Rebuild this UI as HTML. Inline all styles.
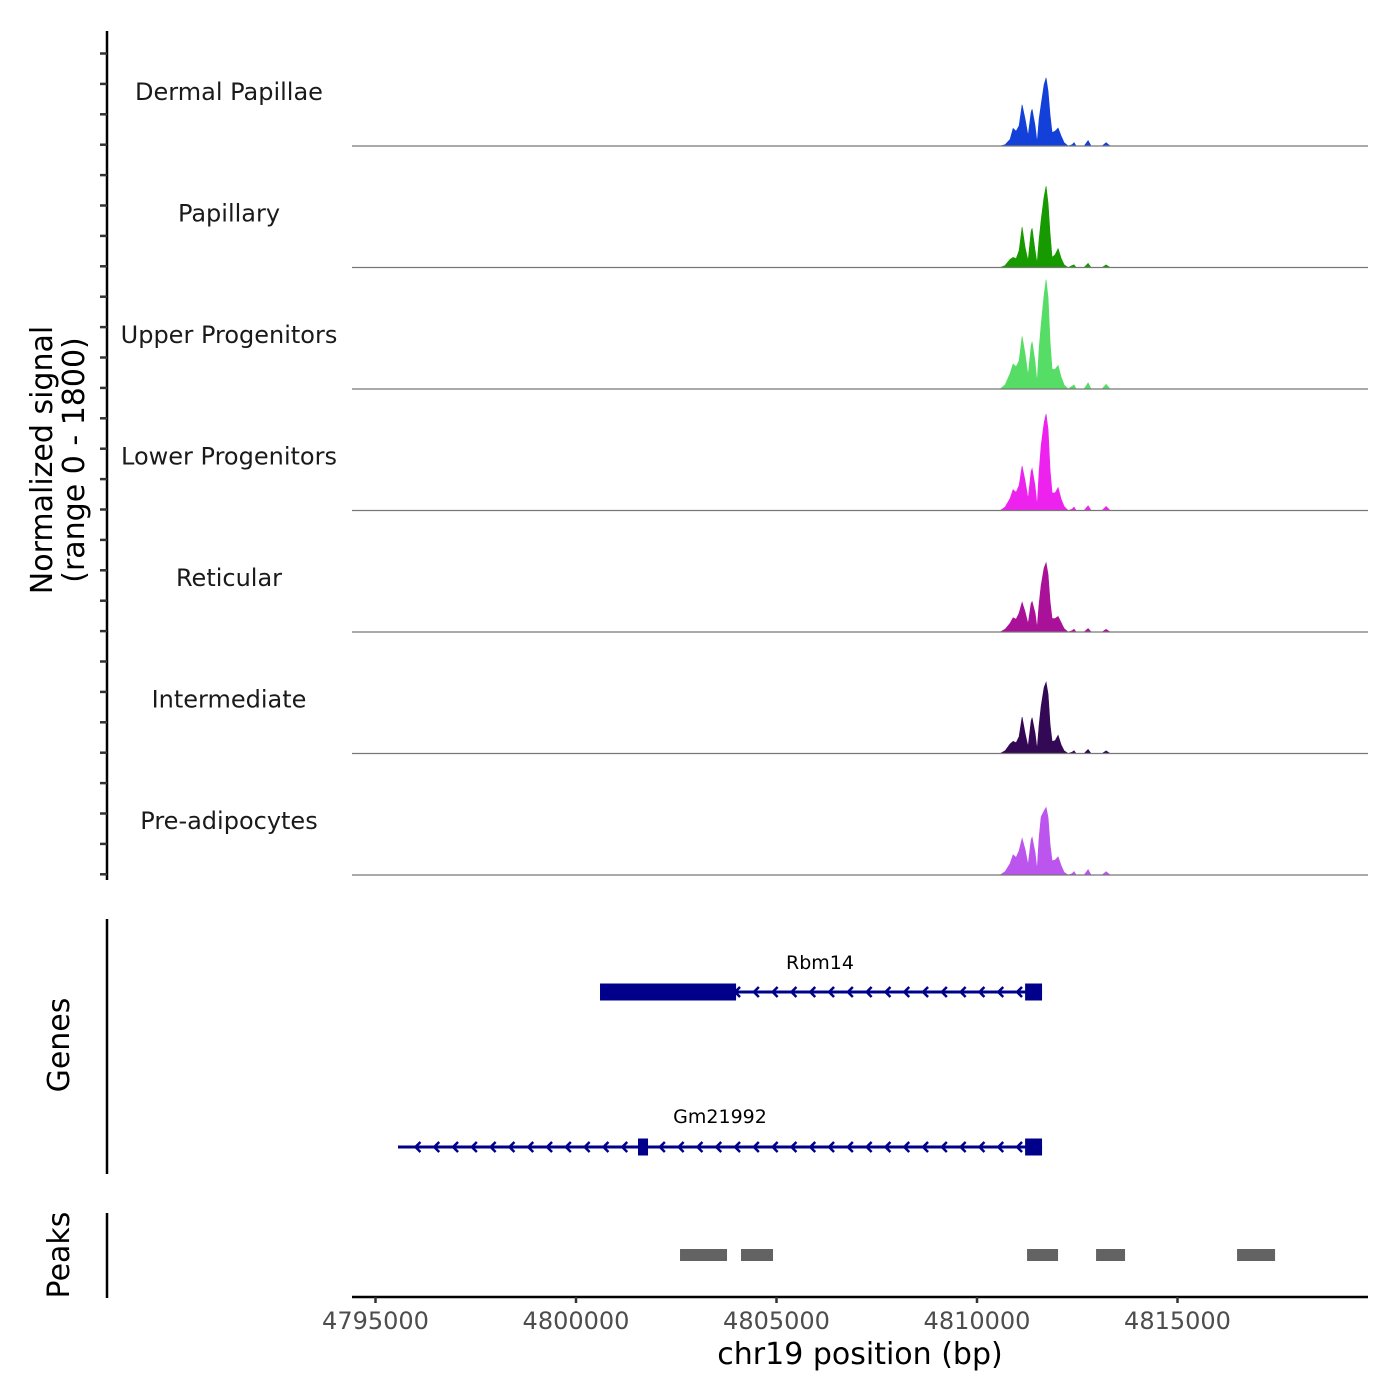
<!DOCTYPE html>
<html><head><meta charset="utf-8"><style>
body{margin:0;background:#fff}
svg{display:block;font-family:"DejaVu Sans","Liberation Sans",sans-serif}
</style></head><body>
<svg id="chart" width="1400" height="1400" viewBox="0 0 1400 1400">
<g id="tracks"></g>
<g id="yaxis"></g>
<text x="52" y="460" font-size="30" text-anchor="middle" transform="rotate(-90 52 460)" fill="#000">Normalized signal</text>
<text x="84" y="460" font-size="30" text-anchor="middle" transform="rotate(-90 84 460)" fill="#000">(range 0 - 1800)</text>
<g id="genes"></g>
<g id="peaks"></g>
<g id="xaxis"></g>
<text x="860" y="1364" font-size="30" text-anchor="middle" fill="#000">chr19 position (bp)</text>
</svg>
<script>
const trackNames=["Dermal Papillae","Papillary","Upper Progenitors","Lower Progenitors","Reticular","Intermediate","Pre-adipocytes"];
const trackColors=["#1240d8","#169a00","#55dd66","#ee22ee","#aa1199","#330955","#bb55ee"];
const positions=[4810575,4810700,4810825,4810900,4810975,4811050,4811125,4811200,4811275,4811349,4811374,4811449,4811499,4811549,4811599,4811674,4811724,4811773,4811823,4811873,4811948,4812023,4812098,4812172,4812272,4812372,4812422,4812472,4812671,4812771,4812846,4813120,4813220,4813320];
const dermal=[0,20,100,260,220,300,610,400,150,500,545,300,50,400,610,910,1010,810,455,200,220,265,150,50,0,20,50,0,0,80,0,0,50,0];
const papillary=[0,30,120,150,130,250,600,300,100,540,580,250,60,420,700,1050,1205,950,500,150,190,280,140,40,0,30,40,0,0,60,0,0,40,0];
const upper=[0,60,230,370,330,420,780,520,200,640,700,400,90,600,950,1400,1620,1350,700,290,290,350,180,60,0,40,60,0,0,90,0,0,70,0];
const lower=[0,50,180,310,270,370,660,440,170,580,620,360,70,580,960,1300,1430,1200,600,260,260,340,170,60,0,20,50,0,0,70,0,0,60,0];
const reticular=[0,40,130,210,190,280,440,300,120,420,450,280,60,420,690,950,1025,850,450,200,200,230,140,50,0,20,40,0,0,50,0,0,40,0];
const intermediate=[0,40,140,180,160,250,540,300,100,480,530,300,60,420,700,980,1055,880,430,180,190,270,130,40,0,20,40,0,0,60,0,0,40,0];
const preadipo=[0,50,170,300,260,360,540,380,150,520,560,330,70,560,860,950,1000,850,450,210,220,270,140,40,0,20,50,0,0,80,0,0,50,0];
const series=[dermal,papillary,upper,lower,reticular,intermediate,preadipo];
const xTicks=[4795000,4800000,4805000,4810000,4815000];
const peakStarts=[4802594,4804115,4811248,4812969,4816485];
const peakEnds=[4803766,4804913,4812021,4813692,4817433];
const geneNames=["Rbm14","Gm21992"];
const geneStarts=[4800599,4795561];
const geneEnds=[4811622,4811622];
const exonStarts=[[4800599,4811200],[4801546,4811200]];
const exonEnds=[[4803992,4811622],[4801796,4811622]];

const NS="http://www.w3.org/2000/svg";
function mk(tag,attrs,parent){const e=document.createElementNS(NS,tag);for(const k in attrs)e.setAttribute(k,attrs[k]);parent.appendChild(e);return e;}
const X0=352,X1=1368;
function xs(bp){return 375.5+(bp-4795000)*0.0401;}
const trackH=121.5,yMax=1800;
function ys(i,v){const base=146+i*trackH;return base-v/yMax*trackH;}

const tracks=document.getElementById('tracks');
series.forEach((s,i)=>{
  const base=146+i*trackH;
  const lab=mk('text',{x:229,y:base-46,'font-size':24,'text-anchor':'middle',fill:'#1a1a1a'},tracks);
  lab.textContent=trackNames[i];
  
  
  let d=`M${xs(positions[0])},${base}`;
  positions.forEach((p,j)=>{d+=` L${xs(p).toFixed(1)},${ys(i,s[j]).toFixed(1)}`;});
  d+=` L${xs(positions[positions.length-1])},${base} Z`;
  const a=mk('path',{d:d,fill:trackColors[i],stroke:trackColors[i],'stroke-width':0.6},tracks);
  
  
  const l=mk('line',{x1:X0,x2:X1,y1:base,y2:base,stroke:'#777','stroke-width':1.2},tracks);
  
  
});

const ya=document.getElementById('yaxis');
mk('line',{x1:107,x2:107,y1:31,y2:880,stroke:'#000','stroke-width':2.5},ya);
for(let t=0;t<28;t++){const y=53.5+t*30.4;mk('line',{x1:100,x2:107,y1:y,y2:y,stroke:'#333','stroke-width':2.5},ya);}

const g=document.getElementById('genes');
mk('line',{x1:107,x2:107,y1:919,y2:1174,stroke:'#000','stroke-width':2.5},g);
const gt=mk('text',{x:69,y:1045,'font-size':30,'text-anchor':'middle',transform:'rotate(-90 69 1045)'},g);gt.textContent='Genes';
const gy=[992,1147],ly=[969,1123];
geneNames.forEach((n,i)=>{
  const t=mk('text',{x:[820,720][i],y:ly[i],'font-size':19,'text-anchor':'middle',fill:'#000'},g);
  t.textContent=n;
  
  
  const x1=xs(geneStarts[i]),x2=xs(geneEnds[i]);
  const ln=mk('line',{x1:x1,x2:x2,y1:gy[i],y2:gy[i],stroke:'#00008b','stroke-width':3},g);
  
  
  for(let x=x2-25;x>x1+2;x-=18.8){mk('path',{d:`M${x+5},${gy[i]-5} L${x},${gy[i]} L${x+5},${gy[i]+5}`,fill:'none',stroke:'#00008b','stroke-width':2.5},g);}
  exonStarts[i].forEach((s,j)=>{
    const r=mk('rect',{x:xs(s),y:gy[i]-8.5,width:xs(exonEnds[i][j])-xs(s),height:17,fill:'#00008b'},g);
    
    
  });
});

const pk=document.getElementById('peaks');
mk('line',{x1:107,x2:107,y1:1213,y2:1298,stroke:'#000','stroke-width':2.5},pk);
const pt=mk('text',{x:69,y:1255,'font-size':30,'text-anchor':'middle',transform:'rotate(-90 69 1255)'},pk);pt.textContent='Peaks';
peakStarts.forEach((s,i)=>{
  const r=mk('rect',{x:xs(s),y:1249,width:xs(peakEnds[i])-xs(s),height:12,fill:'#636363'},pk);
  
  
});

const xa=document.getElementById('xaxis');
mk('line',{x1:X0,x2:X1,y1:1297,y2:1297,stroke:'#000','stroke-width':2.5},xa);
xTicks.forEach(t=>{
  const x=xs(t);
  mk('line',{x1:x,x2:x,y1:1297,y2:1303,stroke:'#333','stroke-width':2.5},xa);
  const tx=mk('text',{x:x,y:1329,'font-size':24,'text-anchor':'middle',fill:'#4d4d4d'},xa);
  tx.textContent=t;
  
  
});
</script>
</body></html>
